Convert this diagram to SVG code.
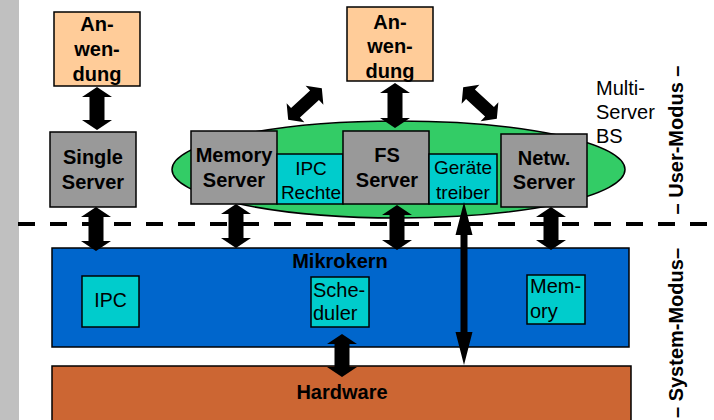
<svg xmlns="http://www.w3.org/2000/svg" width="714" height="420" viewBox="0 0 714 420">
<style>
  .box { stroke:#000; stroke-width:1.5; }
  .app { fill:#FFCC99; }
  .srv { fill:#999999; }
  .cy { fill:#00CCCC; }
  .b { font-family:"Liberation Sans", Arial, sans-serif; font-weight:bold; font-size:20px; fill:#000; text-anchor:middle; }
  .r { font-family:"Liberation Sans", Arial, sans-serif; font-size:20px; fill:#000; }
  .rc { text-anchor:middle; }
  .arr { fill:#000; }
</style>
<rect x="0" y="0" width="19" height="420" fill="#C0C0C0"/>
<g id="multi-server">
  <ellipse cx="398.5" cy="169.5" rx="226.5" ry="48.5" fill="#33CC66" stroke="#000" stroke-width="1.5"/>
</g>
<g id="mikrokern">
  <rect class="box" x="52" y="248" width="577" height="99" fill="#0066CC"/>
  <text class="b" x="340" y="268">Mikrokern</text>
</g>
<g id="hardware">
  <rect class="box" x="52" y="366" width="579" height="60" fill="#CC6633"/>
  <text class="b" x="342" y="399">Hardware</text>
</g>
<g id="anwendung1">
  <rect class="box app" x="54" y="12" width="86" height="74"/>
  <text class="b" x="97" y="31">An-</text>
  <text class="b" x="97" y="56">wen-</text>
  <text class="b" x="97" y="81">dung</text>
</g>
<g id="anwendung2">
  <rect class="box app" x="347" y="7" width="86" height="74"/>
  <text class="b" x="390" y="29">An-</text>
  <text class="b" x="390" y="53">wen-</text>
  <text class="b" x="390" y="78">dung</text>
</g>
<g id="single-server">
  <rect class="box srv" x="50" y="132" width="86" height="75"/>
  <text class="b" x="93" y="164">Single</text>
  <text class="b" x="93" y="189">Server</text>
</g>
<g id="memory-server">
  <rect class="box srv" x="191" y="131" width="86" height="73"/>
  <text class="b" x="234" y="162">Memory</text>
  <text class="b" x="234" y="187">Server</text>
</g>
<g id="ipc-rechte">
  <rect class="box cy" x="277" y="154" width="66" height="50"/>
  <text class="r rc" x="311" y="175" style="font-size:19px">IPC</text>
  <text class="r rc" x="311" y="199" style="font-size:19px">Rechte</text>
</g>
<g id="fs-server">
  <rect class="box srv" x="343" y="131" width="86" height="73"/>
  <text class="b" x="387" y="162">FS</text>
  <text class="b" x="387" y="187">Server</text>
</g>
<g id="geraetetreiber">
  <rect class="box cy" x="429" y="154" width="68" height="50"/>
  <text class="r rc" x="463" y="174" style="font-size:19px">Geräte</text>
  <text class="r rc" x="463" y="199" style="font-size:19px">treiber</text>
</g>
<g id="netw-server">
  <rect class="box srv" x="501" y="134" width="86" height="73"/>
  <text class="b" x="544" y="165">Netw.</text>
  <text class="b" x="544" y="189">Server</text>
</g>
<g id="multi-server-label">
  <text class="r" x="596" y="95">Multi-</text>
  <text class="r" x="596" y="119">Server</text>
  <text class="r" x="596" y="143">BS</text>
</g>
<g id="ipc">
  <rect class="box cy" x="82" y="276" width="57" height="51"/>
  <text class="r rc" x="110.5" y="307" style="font-size:19.5px">IPC</text>
</g>
<g id="scheduler">
  <rect class="box cy" x="311" y="277" width="58" height="50"/>
  <text class="r" x="313" y="297">Sche-</text>
  <text class="r" x="313" y="320">duler</text>
</g>
<g id="memory">
  <rect class="box cy" x="527" y="275" width="58" height="49"/>
  <text class="r" x="530" y="293">Mem-</text>
  <text class="r" x="530" y="318">ory</text>
</g>
<g id="mode-divider">
  <line x1="18" y1="224" x2="714" y2="224" stroke="#000" stroke-width="4" stroke-dasharray="17 15"/>
  <text class="b" transform="translate(683,140) rotate(-90)">– User-Modus –</text>
  <text class="b" transform="translate(683,333) rotate(-90)">– System-Modus–</text>
</g>
<g id="connectors" class="arr">
  <!-- vertical blocky double arrows: tip, head base (10), half-shaft 7.5, half-head 15 -->
  <polygon points="97,87 112,97 104.5,97 104.5,120 112,120 97,130 82,120 89.5,120 89.5,97 82,97"/>
  <polygon points="395,83 410,93 402.5,93 402.5,118 410,118 395,128 380,118 387.5,118 387.5,93 380,93"/>
  <polygon points="96,207 111,217 103.5,217 103.5,241 111,241 96,251 81,241 88.5,241 88.5,217 81,217"/>
  <polygon points="236,204 251,214 243.5,214 243.5,238 251,238 236,248 221,238 228.5,238 228.5,214 221,214"/>
  <polygon points="397,205 412,215 404.5,215 404.5,240 412,240 397,250 382,240 389.5,240 389.5,215 382,215"/>
  <polygon points="551,207 566,217 558.5,217 558.5,240 566,240 551,250 536,240 543.5,240 543.5,217 536,217"/>
  <polygon points="342,334 357,344 349.5,344 349.5,367 357,367 342,377 327,367 334.5,367 334.5,344 327,344"/>
  <!-- diagonal double arrows -->
  <polygon transform="translate(305,104) rotate(-43)" points="-23,0 -13,-13 -13,-6.5 13,-6.5 13,-13 23,0 13,13 13,6.5 -13,6.5 -13,13"/>
  <polygon transform="translate(480,103) rotate(43)" points="-23,0 -13,-13 -13,-6.5 13,-6.5 13,-13 23,0 13,13 13,6.5 -13,6.5 -13,13"/>
  <!-- thin long double arrow -->
  <polygon points="464,202 472.5,235 467.5,235 467.5,332 472.5,332 464,365 455.5,332 460.5,332 460.5,235 455.5,235"/>
</g>
</svg>
